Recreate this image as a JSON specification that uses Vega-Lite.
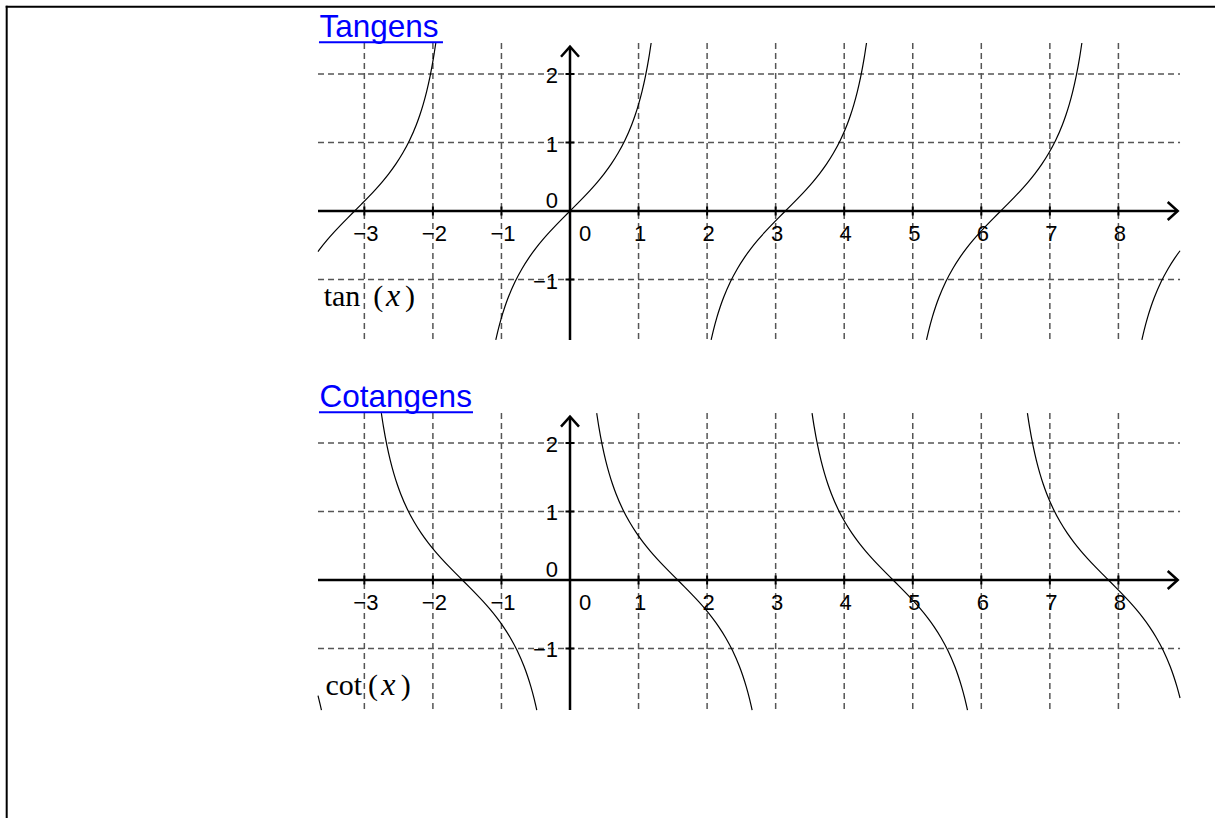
{
"$schema": "https://vega.github.io/schema/vega-lite/v6.json",
"width": 1215, "height": 818, "padding": 0, "autosize": {"type": "none"},
"background": "white",
"config": {"view": {"stroke": null}},
"datasets": {
"tan": [
{"b":"A","x":-3.676,"y":-0.592},{"b":"A","x":-3.6416,"y":-0.5463},{"b":"A","x":-3.5416,"y":-0.4228},{"b":"A","x":-3.4416,"y":-0.3093},{"b":"A","x":-3.3416,"y":-0.2027},{"b":"A","x":-3.2416,"y":-0.1003},{"b":"A","x":-3.1416,"y":0},{"b":"A","x":-3.0416,"y":0.1003},{"b":"A","x":-2.9416,"y":0.2027},{"b":"A","x":-2.8416,"y":0.3093},{"b":"A","x":-2.7416,"y":0.4228},{"b":"A","x":-2.6416,"y":0.5463},{"b":"A","x":-2.5416,"y":0.6841},{"b":"A","x":-2.4416,"y":0.8423},{"b":"A","x":-2.3416,"y":1.0296},{"b":"A","x":-2.2416,"y":1.2602},{"b":"A","x":-2.1916,"y":1.3984},{"b":"A","x":-2.1416,"y":1.5574},{"b":"A","x":-2.0916,"y":1.7433},{"b":"A","x":-2.0416,"y":1.9648},{"b":"A","x":-1.9916,"y":2.2345},{"b":"A","x":-1.9579,"y":2.453},
{"b":"B","x":-1.0826,"y":-1.883},{"b":"B","x":-1.05,"y":-1.7433},{"b":"B","x":-1,"y":-1.5574},{"b":"B","x":-0.95,"y":-1.3984},{"b":"B","x":-0.9,"y":-1.2602},{"b":"B","x":-0.8,"y":-1.0296},{"b":"B","x":-0.7,"y":-0.8423},{"b":"B","x":-0.6,"y":-0.6841},{"b":"B","x":-0.5,"y":-0.5463},{"b":"B","x":-0.4,"y":-0.4228},{"b":"B","x":-0.3,"y":-0.3093},{"b":"B","x":-0.2,"y":-0.2027},{"b":"B","x":-0.1,"y":-0.1003},{"b":"B","x":0,"y":0},{"b":"B","x":0.1,"y":0.1003},{"b":"B","x":0.2,"y":0.2027},{"b":"B","x":0.3,"y":0.3093},{"b":"B","x":0.4,"y":0.4228},{"b":"B","x":0.5,"y":0.5463},{"b":"B","x":0.6,"y":0.6841},{"b":"B","x":0.7,"y":0.8423},{"b":"B","x":0.8,"y":1.0296},{"b":"B","x":0.9,"y":1.2602},{"b":"B","x":0.95,"y":1.3984},{"b":"B","x":1,"y":1.5574},{"b":"B","x":1.05,"y":1.7433},{"b":"B","x":1.1,"y":1.9648},{"b":"B","x":1.15,"y":2.2345},{"b":"B","x":1.1837,"y":2.453},
{"b":"C","x":2.059,"y":-1.883},{"b":"C","x":2.0916,"y":-1.7433},{"b":"C","x":2.1416,"y":-1.5574},{"b":"C","x":2.1916,"y":-1.3984},{"b":"C","x":2.2416,"y":-1.2602},{"b":"C","x":2.3416,"y":-1.0296},{"b":"C","x":2.4416,"y":-0.8423},{"b":"C","x":2.5416,"y":-0.6841},{"b":"C","x":2.6416,"y":-0.5463},{"b":"C","x":2.7416,"y":-0.4228},{"b":"C","x":2.8416,"y":-0.3093},{"b":"C","x":2.9416,"y":-0.2027},{"b":"C","x":3.0416,"y":-0.1003},{"b":"C","x":3.1416,"y":0},{"b":"C","x":3.2416,"y":0.1003},{"b":"C","x":3.3416,"y":0.2027},{"b":"C","x":3.4416,"y":0.3093},{"b":"C","x":3.5416,"y":0.4228},{"b":"C","x":3.6416,"y":0.5463},{"b":"C","x":3.7416,"y":0.6841},{"b":"C","x":3.8416,"y":0.8423},{"b":"C","x":3.9416,"y":1.0296},{"b":"C","x":4.0416,"y":1.2602},{"b":"C","x":4.0916,"y":1.3984},{"b":"C","x":4.1416,"y":1.5574},{"b":"C","x":4.1916,"y":1.7433},{"b":"C","x":4.2416,"y":1.9648},{"b":"C","x":4.2916,"y":2.2345},{"b":"C","x":4.3253,"y":2.453},
{"b":"D","x":5.2006,"y":-1.883},{"b":"D","x":5.2332,"y":-1.7433},{"b":"D","x":5.2832,"y":-1.5574},{"b":"D","x":5.3332,"y":-1.3984},{"b":"D","x":5.3832,"y":-1.2602},{"b":"D","x":5.4832,"y":-1.0296},{"b":"D","x":5.5832,"y":-0.8423},{"b":"D","x":5.6832,"y":-0.6841},{"b":"D","x":5.7832,"y":-0.5463},{"b":"D","x":5.8832,"y":-0.4228},{"b":"D","x":5.9832,"y":-0.3093},{"b":"D","x":6.0832,"y":-0.2027},{"b":"D","x":6.1832,"y":-0.1003},{"b":"D","x":6.2832,"y":0},{"b":"D","x":6.3832,"y":0.1003},{"b":"D","x":6.4832,"y":0.2027},{"b":"D","x":6.5832,"y":0.3093},{"b":"D","x":6.6832,"y":0.4228},{"b":"D","x":6.7832,"y":0.5463},{"b":"D","x":6.8832,"y":0.6841},{"b":"D","x":6.9832,"y":0.8423},{"b":"D","x":7.0832,"y":1.0296},{"b":"D","x":7.1832,"y":1.2602},{"b":"D","x":7.2332,"y":1.3984},{"b":"D","x":7.2832,"y":1.5574},{"b":"D","x":7.3332,"y":1.7433},{"b":"D","x":7.3832,"y":1.9648},{"b":"D","x":7.4332,"y":2.2345},{"b":"D","x":7.4669,"y":2.453},
{"b":"E","x":8.3422,"y":-1.883},{"b":"E","x":8.3748,"y":-1.7433},{"b":"E","x":8.4248,"y":-1.5574},{"b":"E","x":8.4748,"y":-1.3984},{"b":"E","x":8.5248,"y":-1.2602},{"b":"E","x":8.6248,"y":-1.0296},{"b":"E","x":8.7248,"y":-0.8423},{"b":"E","x":8.8248,"y":-0.6841},{"b":"E","x":8.899,"y":-0.5803}
],
"cot": [
{"b":"P","x":-3.676,"y":-1.689},{"b":"P","x":-3.6624,"y":-1.7433},{"b":"P","x":-3.626,"y":-1.899},
{"b":"Q","x":-2.7522,"y":2.437},{"b":"Q","x":-2.7208,"y":2.2345},{"b":"Q","x":-2.6708,"y":1.9648},{"b":"Q","x":-2.6208,"y":1.7433},{"b":"Q","x":-2.5708,"y":1.5574},{"b":"Q","x":-2.5208,"y":1.3984},{"b":"Q","x":-2.4708,"y":1.2602},{"b":"Q","x":-2.3708,"y":1.0296},{"b":"Q","x":-2.2708,"y":0.8423},{"b":"Q","x":-2.1708,"y":0.6841},{"b":"Q","x":-2.0708,"y":0.5463},{"b":"Q","x":-1.9708,"y":0.4228},{"b":"Q","x":-1.8708,"y":0.3093},{"b":"Q","x":-1.7708,"y":0.2027},{"b":"Q","x":-1.6708,"y":0.1003},{"b":"Q","x":-1.5708,"y":0},{"b":"Q","x":-1.4708,"y":-0.1003},{"b":"Q","x":-1.3708,"y":-0.2027},{"b":"Q","x":-1.2708,"y":-0.3093},{"b":"Q","x":-1.1708,"y":-0.4228},{"b":"Q","x":-1.0708,"y":-0.5463},{"b":"Q","x":-0.9708,"y":-0.6841},{"b":"Q","x":-0.8708,"y":-0.8423},{"b":"Q","x":-0.7708,"y":-1.0296},{"b":"Q","x":-0.6708,"y":-1.2602},{"b":"Q","x":-0.6208,"y":-1.3984},{"b":"Q","x":-0.5708,"y":-1.5574},{"b":"Q","x":-0.5208,"y":-1.7433},{"b":"Q","x":-0.4847,"y":-1.899},
{"b":"R","x":0.3894,"y":2.437},{"b":"R","x":0.4208,"y":2.2345},{"b":"R","x":0.4708,"y":1.9648},{"b":"R","x":0.5208,"y":1.7433},{"b":"R","x":0.5708,"y":1.5574},{"b":"R","x":0.6208,"y":1.3984},{"b":"R","x":0.6708,"y":1.2602},{"b":"R","x":0.7708,"y":1.0296},{"b":"R","x":0.8708,"y":0.8423},{"b":"R","x":0.9708,"y":0.6841},{"b":"R","x":1.0708,"y":0.5463},{"b":"R","x":1.1708,"y":0.4228},{"b":"R","x":1.2708,"y":0.3093},{"b":"R","x":1.3708,"y":0.2027},{"b":"R","x":1.4708,"y":0.1003},{"b":"R","x":1.5708,"y":0},{"b":"R","x":1.6708,"y":-0.1003},{"b":"R","x":1.7708,"y":-0.2027},{"b":"R","x":1.8708,"y":-0.3093},{"b":"R","x":1.9708,"y":-0.4228},{"b":"R","x":2.0708,"y":-0.5463},{"b":"R","x":2.1708,"y":-0.6841},{"b":"R","x":2.2708,"y":-0.8423},{"b":"R","x":2.3708,"y":-1.0296},{"b":"R","x":2.4708,"y":-1.2602},{"b":"R","x":2.5208,"y":-1.3984},{"b":"R","x":2.5708,"y":-1.5574},{"b":"R","x":2.6208,"y":-1.7433},{"b":"R","x":2.6569,"y":-1.899},
{"b":"S","x":3.531,"y":2.437},{"b":"S","x":3.5624,"y":2.2345},{"b":"S","x":3.6124,"y":1.9648},{"b":"S","x":3.6624,"y":1.7433},{"b":"S","x":3.7124,"y":1.5574},{"b":"S","x":3.7624,"y":1.3984},{"b":"S","x":3.8124,"y":1.2602},{"b":"S","x":3.9124,"y":1.0296},{"b":"S","x":4.0124,"y":0.8423},{"b":"S","x":4.1124,"y":0.6841},{"b":"S","x":4.2124,"y":0.5463},{"b":"S","x":4.3124,"y":0.4228},{"b":"S","x":4.4124,"y":0.3093},{"b":"S","x":4.5124,"y":0.2027},{"b":"S","x":4.6124,"y":0.1003},{"b":"S","x":4.7124,"y":0},{"b":"S","x":4.8124,"y":-0.1003},{"b":"S","x":4.9124,"y":-0.2027},{"b":"S","x":5.0124,"y":-0.3093},{"b":"S","x":5.1124,"y":-0.4228},{"b":"S","x":5.2124,"y":-0.5463},{"b":"S","x":5.3124,"y":-0.6841},{"b":"S","x":5.4124,"y":-0.8423},{"b":"S","x":5.5124,"y":-1.0296},{"b":"S","x":5.6124,"y":-1.2602},{"b":"S","x":5.6624,"y":-1.3984},{"b":"S","x":5.7124,"y":-1.5574},{"b":"S","x":5.7624,"y":-1.7433},{"b":"S","x":5.7985,"y":-1.899},
{"b":"T","x":6.6726,"y":2.437},{"b":"T","x":6.704,"y":2.2345},{"b":"T","x":6.754,"y":1.9648},{"b":"T","x":6.804,"y":1.7433},{"b":"T","x":6.854,"y":1.5574},{"b":"T","x":6.904,"y":1.3984},{"b":"T","x":6.954,"y":1.2602},{"b":"T","x":7.054,"y":1.0296},{"b":"T","x":7.154,"y":0.8423},{"b":"T","x":7.254,"y":0.6841},{"b":"T","x":7.354,"y":0.5463},{"b":"T","x":7.454,"y":0.4228},{"b":"T","x":7.554,"y":0.3093},{"b":"T","x":7.654,"y":0.2027},{"b":"T","x":7.754,"y":0.1003},{"b":"T","x":7.854,"y":0},{"b":"T","x":7.954,"y":-0.1003},{"b":"T","x":8.054,"y":-0.2027},{"b":"T","x":8.154,"y":-0.3093},{"b":"T","x":8.254,"y":-0.4228},{"b":"T","x":8.354,"y":-0.5463},{"b":"T","x":8.454,"y":-0.6841},{"b":"T","x":8.554,"y":-0.8423},{"b":"T","x":8.654,"y":-1.0296},{"b":"T","x":8.754,"y":-1.2602},{"b":"T","x":8.804,"y":-1.3984},{"b":"T","x":8.854,"y":-1.5574},{"b":"T","x":8.899,"y":-1.723}
],
"vgrid": [{"x":-3},{"x":-2},{"x":-1},{"x":1},{"x":2},{"x":3},{"x":4},{"x":5},{"x":6},{"x":7},{"x":8}],
"hgrid": [{"y":-1},{"y":1},{"y":2}],
"xlab": [{"x":-3,"l":"−3"},{"x":-2,"l":"−2"},{"x":-1,"l":"−1"},{"x":0.197,"l":"0"},{"x":1,"l":"1"},{"x":2,"l":"2"},{"x":3,"l":"3"},{"x":4,"l":"4"},{"x":5,"l":"5"},{"x":6,"l":"6"},{"x":7,"l":"7"},{"x":8,"l":"8"}],
"ylab": [{"y":2,"l":"2"},{"y":1,"l":"1"},{"y":-1,"l":"−1"},{"y":0.18,"l":"0"}]
},
"layer": [
{"data": {"values": [{"x":-8.2318,"x2":9.409,"y":2.9825,"y2":2.9825},{"x":-8.2173,"x2":-8.2173,"y":2.9971,"y2":-8.8613}]},
 "mark": {"type":"rule","color":"black","strokeWidth":2},
 "encoding": {"x":{"field":"x","type":"quantitative","scale":{"domain":[-8.315,9.409],"nice":false,"zero":false},"axis":null},"x2":{"field":"x2"},
  "y":{"field":"y","type":"quantitative","scale":{"domain":[-8.8613,3.0803],"nice":false,"zero":false},"axis":null},"y2":{"field":"y2"}}},

{"data": {"name":"vgrid"},
 "mark": {"type":"rule","color":"#555555","strokeWidth":1.5,"strokeDash":[6,4]},
 "encoding": {"x":{"field":"x","type":"quantitative","scale":{"domain":[-8.315,9.409],"nice":false,"zero":false},"axis":null},
  "y":{"datum":2.453,"type":"quantitative","scale":{"domain":[-8.8613,3.0803],"nice":false,"zero":false},"axis":null},"y2":{"datum":-1.883}}},
{"data": {"name":"hgrid"},
 "mark": {"type":"rule","color":"#555555","strokeWidth":1.5,"strokeDash":[6,4]},
 "encoding": {"x":{"datum":-3.676,"type":"quantitative","scale":{"domain":[-8.315,9.409],"nice":false,"zero":false},"axis":null},"x2":{"datum":8.899},
  "y":{"field":"y","type":"quantitative","scale":{"domain":[-8.8613,3.0803],"nice":false,"zero":false},"axis":null}}},
{"data": {"name":"vgrid"},
 "mark": {"type":"rule","color":"#555555","strokeWidth":1.5,"strokeDash":[6,4]},
 "encoding": {"x":{"field":"x","type":"quantitative","scale":{"domain":[-8.315,9.409],"nice":false,"zero":false},"axis":null},
  "y":{"datum":2.438,"type":"quantitative","scale":{"domain":[-3.4745,8.4672],"nice":false,"zero":false},"axis":null},"y2":{"datum":-1.898}}},
{"data": {"name":"hgrid"},
 "mark": {"type":"rule","color":"#555555","strokeWidth":1.5,"strokeDash":[6,4]},
 "encoding": {"x":{"datum":-3.676,"type":"quantitative","scale":{"domain":[-8.315,9.409],"nice":false,"zero":false},"axis":null},"x2":{"datum":8.899},
  "y":{"field":"y","type":"quantitative","scale":{"domain":[-3.4745,8.4672],"nice":false,"zero":false},"axis":null}}},

{"data": {"values": [{"x":-3.676,"x2":8.865,"y":0,"y2":0},{"x":0,"x2":0,"y":-1.883,"y2":2.398}]},
 "mark": {"type":"rule","color":"black","strokeWidth":2.5},
 "encoding": {"x":{"field":"x","type":"quantitative","scale":{"domain":[-8.315,9.409],"nice":false,"zero":false},"axis":null},"x2":{"field":"x2"},
  "y":{"field":"y","type":"quantitative","scale":{"domain":[-8.8613,3.0803],"nice":false,"zero":false},"axis":null},"y2":{"field":"y2"}}},
{"data": {"values": [{"x":-3.676,"x2":8.865,"y":0,"y2":0},{"x":0,"x2":0,"y":-1.898,"y2":2.384}]},
 "mark": {"type":"rule","color":"black","strokeWidth":2.5},
 "encoding": {"x":{"field":"x","type":"quantitative","scale":{"domain":[-8.315,9.409],"nice":false,"zero":false},"axis":null},"x2":{"field":"x2"},
  "y":{"field":"y","type":"quantitative","scale":{"domain":[-3.4745,8.4672],"nice":false,"zero":false},"axis":null},"y2":{"field":"y2"}}},

{"data": {"name":"vgrid"},
 "mark": {"type":"tick","orient":"vertical","size":9,"thickness":2,"color":"black","opacity":1},
 "encoding": {"x":{"field":"x","type":"quantitative","scale":{"domain":[-8.315,9.409],"nice":false,"zero":false},"axis":null},
  "y":{"datum":0,"type":"quantitative","scale":{"domain":[-8.8613,3.0803],"nice":false,"zero":false},"axis":null}}},
{"data": {"name":"hgrid"},
 "mark": {"type":"tick","orient":"horizontal","size":9,"thickness":2,"color":"black","opacity":1},
 "encoding": {"x":{"datum":0,"type":"quantitative","scale":{"domain":[-8.315,9.409],"nice":false,"zero":false},"axis":null},
  "y":{"field":"y","type":"quantitative","scale":{"domain":[-8.8613,3.0803],"nice":false,"zero":false},"axis":null}}},
{"data": {"name":"vgrid"},
 "mark": {"type":"tick","orient":"vertical","size":9,"thickness":2,"color":"black","opacity":1},
 "encoding": {"x":{"field":"x","type":"quantitative","scale":{"domain":[-8.315,9.409],"nice":false,"zero":false},"axis":null},
  "y":{"datum":0,"type":"quantitative","scale":{"domain":[-3.4745,8.4672],"nice":false,"zero":false},"axis":null}}},
{"data": {"name":"hgrid"},
 "mark": {"type":"tick","orient":"horizontal","size":9,"thickness":2,"color":"black","opacity":1},
 "encoding": {"x":{"datum":0,"type":"quantitative","scale":{"domain":[-8.315,9.409],"nice":false,"zero":false},"axis":null},
  "y":{"field":"y","type":"quantitative","scale":{"domain":[-3.4745,8.4672],"nice":false,"zero":false},"axis":null}}},

{"data": {"values": [{"x":8.865,"y":0,"d":"r"},{"x":0,"y":2.398,"d":"u"}]},
 "mark": {"type":"point","filled":false,"size":400,"opacity":1,"strokeWidth":2.5,"color":"black"},
 "encoding": {"x":{"field":"x","type":"quantitative","scale":{"domain":[-8.315,9.409],"nice":false,"zero":false},"axis":null},
  "y":{"field":"y","type":"quantitative","scale":{"domain":[-8.8613,3.0803],"nice":false,"zero":false},"axis":null},
  "shape":{"field":"d","type":"nominal","scale":{"domain":["r","u"],"range":["M-1,-0.9L0,0L-1,0.9","M-0.9,1L0,0L0.9,1"]},"legend":null}}},
{"data": {"values": [{"x":8.865,"y":0,"d":"r"},{"x":0,"y":2.384,"d":"u"}]},
 "mark": {"type":"point","filled":false,"size":400,"opacity":1,"strokeWidth":2.5,"color":"black"},
 "encoding": {"x":{"field":"x","type":"quantitative","scale":{"domain":[-8.315,9.409],"nice":false,"zero":false},"axis":null},
  "y":{"field":"y","type":"quantitative","scale":{"domain":[-3.4745,8.4672],"nice":false,"zero":false},"axis":null},
  "shape":{"field":"d","type":"nominal","scale":{"domain":["r","u"],"range":["M-1,-0.9L0,0L-1,0.9","M-0.9,1L0,0L0.9,1"]},"legend":null}}},

{"data": {"name":"xlab"},
 "mark": {"type":"text","align":"center","baseline":"alphabetic","dy":30,"dx":1.5,"font":"Liberation Sans","fontSize":22,"color":"black"},
 "encoding": {"x":{"field":"x","type":"quantitative","scale":{"domain":[-8.315,9.409],"nice":false,"zero":false},"axis":null},
  "y":{"datum":0,"type":"quantitative","scale":{"domain":[-8.8613,3.0803],"nice":false,"zero":false},"axis":null},"text":{"field":"l"}}},
{"data": {"name":"ylab"},
 "mark": {"type":"text","align":"right","baseline":"alphabetic","dy":9,"dx":-12,"font":"Liberation Sans","fontSize":22,"color":"black"},
 "encoding": {"x":{"datum":0,"type":"quantitative","scale":{"domain":[-8.315,9.409],"nice":false,"zero":false},"axis":null},
  "y":{"field":"y","type":"quantitative","scale":{"domain":[-8.8613,3.0803],"nice":false,"zero":false},"axis":null},"text":{"field":"l"}}},
{"data": {"name":"xlab"},
 "mark": {"type":"text","align":"center","baseline":"alphabetic","dy":30,"dx":1.5,"font":"Liberation Sans","fontSize":22,"color":"black"},
 "encoding": {"x":{"field":"x","type":"quantitative","scale":{"domain":[-8.315,9.409],"nice":false,"zero":false},"axis":null},
  "y":{"datum":0,"type":"quantitative","scale":{"domain":[-3.4745,8.4672],"nice":false,"zero":false},"axis":null},"text":{"field":"l"}}},
{"data": {"name":"ylab"},
 "mark": {"type":"text","align":"right","baseline":"alphabetic","dy":9,"dx":-12,"font":"Liberation Sans","fontSize":22,"color":"black"},
 "encoding": {"x":{"datum":0,"type":"quantitative","scale":{"domain":[-8.315,9.409],"nice":false,"zero":false},"axis":null},
  "y":{"field":"y","type":"quantitative","scale":{"domain":[-3.4745,8.4672],"nice":false,"zero":false},"axis":null},"text":{"field":"l"}}},

{"data": {"name":"tan"},
 "mark": {"type":"line","interpolate":"monotone","color":"black","strokeWidth":1.2},
 "encoding": {"x":{"field":"x","type":"quantitative","scale":{"domain":[-8.315,9.409],"nice":false,"zero":false},"axis":null},
  "y":{"field":"y","type":"quantitative","scale":{"domain":[-8.8613,3.0803],"nice":false,"zero":false},"axis":null},"detail":{"field":"b"}}},
{"data": {"name":"cot"},
 "mark": {"type":"line","interpolate":"monotone","color":"black","strokeWidth":1.2},
 "encoding": {"x":{"field":"x","type":"quantitative","scale":{"domain":[-8.315,9.409],"nice":false,"zero":false},"axis":null},
  "y":{"field":"y","type":"quantitative","scale":{"domain":[-3.4745,8.4672],"nice":false,"zero":false},"axis":null},"detail":{"field":"b"}}},

{"data": {"values": [{"x":-3.654,"y":2.545,"l":"Tangens"}]},
 "mark": {"type":"text","align":"left","baseline":"alphabetic","font":"Liberation Sans","fontSize":31.5,"color":"#0000FF"},
 "encoding": {"x":{"field":"x","type":"quantitative","scale":{"domain":[-8.315,9.409],"nice":false,"zero":false},"axis":null},
  "y":{"field":"y","type":"quantitative","scale":{"domain":[-8.8613,3.0803],"nice":false,"zero":false},"axis":null},"text":{"field":"l"}}},
{"data": {"values": [{"x":-3.662,"x2":-1.853,"y":2.463}]},
 "mark": {"type":"rule","color":"#0000FF","strokeWidth":2},
 "encoding": {"x":{"field":"x","type":"quantitative","scale":{"domain":[-8.315,9.409],"nice":false,"zero":false},"axis":null},"x2":{"field":"x2"},
  "y":{"field":"y","type":"quantitative","scale":{"domain":[-8.8613,3.0803],"nice":false,"zero":false},"axis":null}}},
{"data": {"values": [{"x":-3.654,"y":2.530,"l":"Cotangens"}]},
 "mark": {"type":"text","align":"left","baseline":"alphabetic","font":"Liberation Sans","fontSize":31.5,"color":"#0000FF"},
 "encoding": {"x":{"field":"x","type":"quantitative","scale":{"domain":[-8.315,9.409],"nice":false,"zero":false},"axis":null},
  "y":{"field":"y","type":"quantitative","scale":{"domain":[-3.4745,8.4672],"nice":false,"zero":false},"axis":null},"text":{"field":"l"}}},
{"data": {"values": [{"x":-3.662,"x2":-1.415,"y":2.448}]},
 "mark": {"type":"rule","color":"#0000FF","strokeWidth":2},
 "encoding": {"x":{"field":"x","type":"quantitative","scale":{"domain":[-8.315,9.409],"nice":false,"zero":false},"axis":null},"x2":{"field":"x2"},
  "y":{"field":"y","type":"quantitative","scale":{"domain":[-3.4745,8.4672],"nice":false,"zero":false},"axis":null}}},

{"data": {"values": [{"x":-3.326,"y":-1.387,"l":"tan"},{"x":-2.7965,"y":-1.387,"l":"("},{"x":-2.334,"y":-1.387,"l":")"}]},
 "mark": {"type":"text","align":"center","baseline":"alphabetic","font":"Liberation Serif","fontSize":30,"color":"black"},
 "encoding": {"x":{"field":"x","type":"quantitative","scale":{"domain":[-8.315,9.409],"nice":false,"zero":false},"axis":null},
  "y":{"field":"y","type":"quantitative","scale":{"domain":[-8.8613,3.0803],"nice":false,"zero":false},"axis":null},"text":{"field":"l"}}},
{"data": {"values": [{"x":-2.582,"y":-1.387,"l":"x"}]},
 "mark": {"type":"text","align":"center","baseline":"alphabetic","font":"Liberation Serif","fontStyle":"italic","fontSize":32,"color":"black"},
 "encoding": {"x":{"field":"x","type":"quantitative","scale":{"domain":[-8.315,9.409],"nice":false,"zero":false},"axis":null},
  "y":{"field":"y","type":"quantitative","scale":{"domain":[-8.8613,3.0803],"nice":false,"zero":false},"axis":null},"text":{"field":"l"}}},
{"data": {"values": [{"x":-3.301,"y":-1.679,"l":"cot"},{"x":-2.874,"y":-1.679,"l":"("},{"x":-2.395,"y":-1.679,"l":")"}]},
 "mark": {"type":"text","align":"center","baseline":"alphabetic","font":"Liberation Serif","fontSize":30,"color":"black"},
 "encoding": {"x":{"field":"x","type":"quantitative","scale":{"domain":[-8.315,9.409],"nice":false,"zero":false},"axis":null},
  "y":{"field":"y","type":"quantitative","scale":{"domain":[-3.4745,8.4672],"nice":false,"zero":false},"axis":null},"text":{"field":"l"}}},
{"data": {"values": [{"x":-2.651,"y":-1.679,"l":"x"}]},
 "mark": {"type":"text","align":"center","baseline":"alphabetic","font":"Liberation Serif","fontStyle":"italic","fontSize":32,"color":"black"},
 "encoding": {"x":{"field":"x","type":"quantitative","scale":{"domain":[-8.315,9.409],"nice":false,"zero":false},"axis":null},
  "y":{"field":"y","type":"quantitative","scale":{"domain":[-3.4745,8.4672],"nice":false,"zero":false},"axis":null},"text":{"field":"l"}}}
],
"resolve": {"scale": {"y": "independent"}}
}
